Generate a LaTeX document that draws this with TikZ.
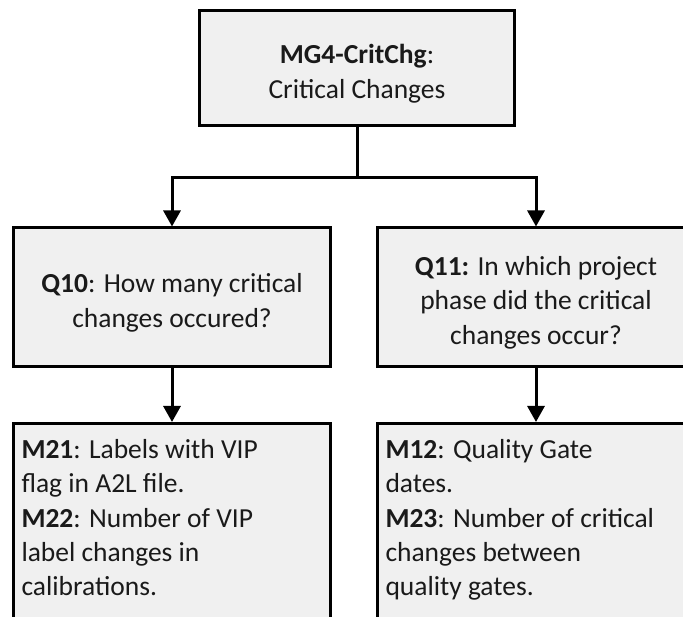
\documentclass[tikz,border=0pt]{standalone}
\usepackage{fontspec}
\setmainfont{Carlito}
\usetikzlibrary{arrows.meta}
\definecolor{boxfill}{HTML}{F0F0F0}
\definecolor{ink}{HTML}{1A1A1A}
\begin{document}
\begin{tikzpicture}[x=1pt,y=-1pt,
  box/.style={draw=black, line width=3pt, fill=boxfill, rectangle,
    inner sep=0pt, text=ink, font=\fontsize{27.5}{34.5}\selectfont},
  centerbox/.style={box, align=center},
  link/.style={line width=3pt, line join=miter, draw=black},
  arrowlink/.style={link, -{Triangle[width=17pt,length=16pt]}}]
  \path[use as bounding box] (0,0) rectangle (683,617);
  \clip (0,0) rectangle (683,617);

  % goal
  \node[centerbox, minimum width=315pt, minimum height=115.5pt] (goal) at (357,68.25)
    {\rule{0pt}{30pt}\textbf{MG4-CritChg}:\\Critical Changes};

  % questions
  \node[centerbox, minimum width=317pt, minimum height=138.5pt] (q10) at (172,297.25)
    {\rule{0pt}{30pt}\textbf{Q10}: How many critical\\changes occured?};
  \node[centerbox, minimum width=317pt, minimum height=138.5pt] (q11) at (536,297.25)
    {\rule{0pt}{30pt}\textbf{Q11:} In which project\\phase did the critical\\changes occur?};

  % metrics (boxes run past the lower edge)
  \node[box, anchor=north] (m21) at (172,422)
    {\begin{minipage}[t][300pt][t]{317pt}\raggedright
      \baselineskip=34.3pt\leftskip=8pt\vspace{16pt}
      \textbf{M21}: Labels with VIP\\flag in A2L file.\\
      \textbf{M22}: Number of VIP\\label changes in\\calibrations.
    \end{minipage}};
  \node[box, anchor=north] (m12) at (536,422)
    {\begin{minipage}[t][300pt][t]{317pt}\raggedright
      \baselineskip=34.3pt\leftskip=8pt\vspace{16pt}
      \textbf{M12}: Quality Gate\\dates.\\
      \textbf{M23}: Number of critical\\changes between\\quality gates.
    \end{minipage}};

  % connectors
  \coordinate (split) at (357,178);
  \draw[link] (goal.south) -- (split);
  \draw[arrowlink] (split) -| (q10.north);
  \draw[arrowlink] (split) -| (q11.north);
  \draw[arrowlink] (q10.south) -- (m21.north);
  \draw[arrowlink] (q11.south) -- (m12.north);
\end{tikzpicture}
\end{document}
